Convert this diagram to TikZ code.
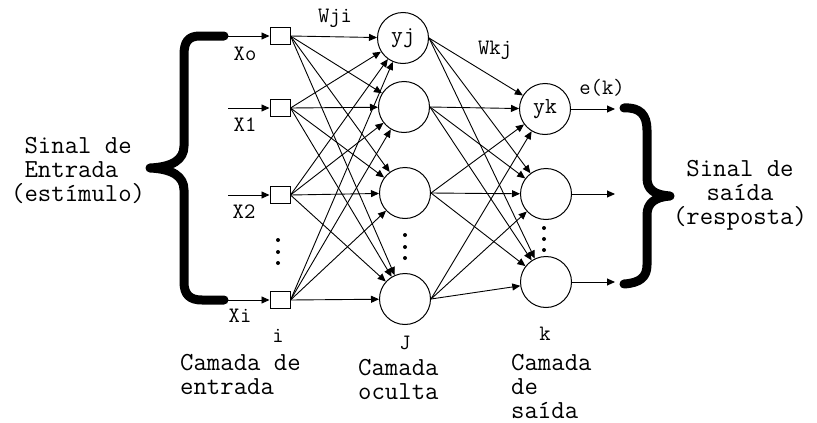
\documentclass[tikz,border=0pt]{standalone}
\usepackage{fontspec}
\usetikzlibrary{arrows.meta}
\begin{document}
\begin{tikzpicture}[x=1pt,y=-1pt,
  conn/.style={line width=0.9pt,-{Triangle[length=8pt,width=7pt]}},
  inbox/.style={draw,line width=1pt,minimum width=20pt,minimum height=17pt,inner sep=0pt},
  neuron/.style={draw,circle,line width=1pt,minimum size=51pt,inner sep=0pt,font=\ttfamily\fontsize{23}{24}\selectfont},
  small/.style={font=\ttfamily\fontsize{22}{24}\selectfont,inner sep=0pt},
  big/.style={font=\ttfamily\fontsize{26}{24}\selectfont,inner sep=0pt},
  brace/.style={line width=9pt,line cap=round,line join=round},
  dot/.style={fill,circle,inner sep=0pt,minimum size=4pt}]
\useasboundingbox (0,0) rectangle (817,423);
% input boxes
\node[inbox] (in0) at (280,36) {};
\node[inbox] (in1) at (280,108) {};
\node[inbox] (in2) at (280,195) {};
\node[inbox] (in3) at (280,300) {};
% hidden neurons
\node[neuron] (h1) at (403,38) {yj};
\node[neuron] (h2) at (404,107) {};
\node[neuron] (h3) at (405,193) {};
\node[neuron] (h4) at (405,299) {};
% output neurons
\node[neuron] (o1) at (545,109) {yk};
\node[neuron] (o2) at (546,194) {};
\node[neuron] (o3) at (546,282) {};
% input arrow starts
\coordinate (s0) at (226,36);
\coordinate (s1) at (228,108);
\coordinate (s2) at (228,195);
\coordinate (s3) at (228,300);
\foreach \i in {0,...,3} \draw[conn] (s\i) -- (in\i.west);
% input -> hidden
\foreach \i in {0,...,3}
  \foreach \j in {1,...,4}
    \draw[conn] (in\i.east) -- (h\j);
% hidden -> output
\foreach \j in {1,...,4}
  \foreach \k in {1,2,3}
    \draw[conn] (h\j.east) -- (o\k);
% output arrows
\coordinate (e1) at (615,109);
\coordinate (e2) at (615,194);
\coordinate (e3) at (615,282);
\foreach \k in {1,2,3} \draw[conn] (o\k.east) -- (e\k);
% dots
\foreach \y [count=\n] in {240,252,263} \node[dot] (di\n) at (278,\y) {};
\foreach \y [count=\n] in {235,247,258} \node[dot] (dh\n) at (405,\y) {};
\foreach \y [count=\n] in {228,239,250} \node[dot] (do\n) at (544,\y) {};
% braces
\draw[brace] (224,36) -- (200,36) .. controls (188,36) and (184,42) .. (184,55) -- (184,146)
  .. controls (184,160) and (172,167) .. (150,168)
  .. controls (172,169) and (184,176) .. (184,190) -- (184,282)
  .. controls (184,295) and (190,300) .. (202,300) -- (224,300);
\draw[brace] (624,108) .. controls (640,107) and (647,115) .. (647,130) -- (647,178)
  .. controls (647,190) and (655,195) .. (670,196)
  .. controls (655,197) and (647,203) .. (647,215) -- (647,265)
  .. controls (647,277) and (640,283) .. (624,284);
% small labels
\node[small] (lwji) at (335,18) {Wji};
\node[small] (lwkj) at (495,50) {Wkj};
\node[small] (lek) at (602,88) {e(k)};
\node[small] (lx0) at (245,54) {Xo};
\node[small] (lx1) at (245,125) {X1};
\node[small] (lx2) at (244,212) {X2};
\node[small] (lxi) at (240,316) {Xi};
\node[small] (li) at (278,336) {i};
\node[small] (lj) at (405,343) {J};
\node[small] (lk) at (545,334) {k};
% big labels
\node[big,align=left,anchor=north west] (lin) at (11,137) {\hphantom{(}Sinal de\\\hphantom{(}Entrada\\(estímulo)};
\node[big,align=center,anchor=north] (lout) at (740,160) {Sinal de\\saída\\(resposta)};
\node[big,align=left,anchor=north west] (lc1) at (180,354) {Camada de\\entrada};
\node[big,align=left,anchor=north west] (lc2) at (358,359) {Camada\\oculta};
\node[big,align=left,anchor=north west] (lc3) at (511,354) {Camada\\de\\saída};
\end{tikzpicture}
\end{document}
